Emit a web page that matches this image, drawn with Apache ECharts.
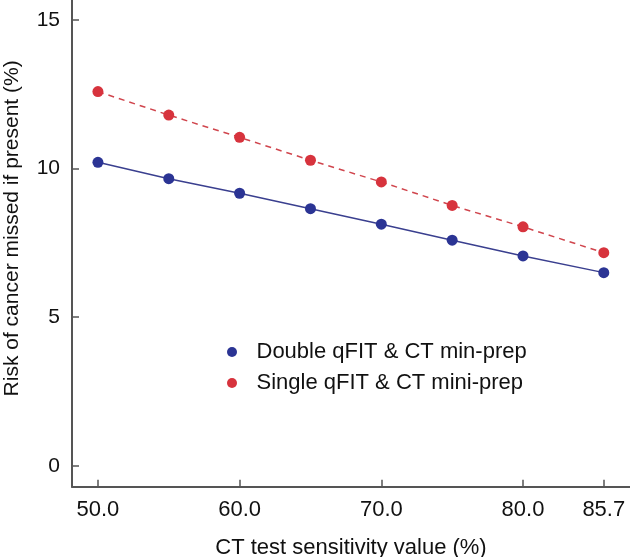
<!DOCTYPE html>
<html>
<head>
<meta charset="utf-8">
<script src="https://cdn.jsdelivr.net/npm/echarts@6/dist/echarts.min.js"></script>
<style>
html,body{margin:0;padding:0;background:#fff;}
#chart{width:630px;height:557px;}
</style>
</head>
<body>
<div id="chart"></div>
<script>
const sensitivity = [50, 55, 60, 65, 70, 75, 80, 85.7];
const doubleQfit = [10.21, 9.66, 9.17, 8.65, 8.13, 7.59, 7.06, 6.50];
const singleQfit = [12.59, 11.80, 11.05, 10.28, 9.55, 8.76, 8.04, 7.17];
const xTicks = [50, 60, 70, 80, 85.7];
const yTicks = [0, 5, 10, 15];
const seriesNames = ['Double qFIT & CT min-prep', 'Single qFIT & CT mini-prep'];

const font = 'Liberation Sans, Arial, Helvetica, sans-serif';
const chart = echarts.init(document.getElementById('chart'), null, {renderer: 'canvas'});
chart.setOption({
  animation: false,
  backgroundColor: '#ffffff',
  grid: {left: 72, right: 0, top: 0, bottom: 70.3, containLabel: false, outerBoundsMode: 'none'},
  legend: {
    orient: 'vertical',
    left: 227,
    top: 340,
    padding: 0,
    icon: 'circle',
    itemWidth: 39,
    itemHeight: 10,
    itemGap: 7,
    textStyle: {fontFamily: font, fontSize: 22, color: '#111', lineHeight: 24},
    data: seriesNames
  },
  xAxis: {
    type: 'value',
    min: 48.17,
    max: 87.55,
    name: 'CT test sensitivity value (%)',
    nameLocation: 'middle',
    nameGap: 50,
    nameTextStyle: {fontFamily: font, fontSize: 22, color: '#111'},
    axisLine: {onZero: false, lineStyle: {color: '#555', width: 2}},
    axisTick: {show: true, inside: true, length: 7, customValues: xTicks, lineStyle: {color: '#555', width: 1.5}},
    axisLabel: {customValues: xTicks, fontFamily: font, fontSize: 22, color: '#111', margin: 12,
      formatter: v => Number(v).toFixed(1)},
    splitLine: {show: false}
  },
  yAxis: {
    type: 'value',
    min: -0.7,
    max: 15.67,
    name: 'Risk of cancer missed if present (%)',
    nameLocation: 'middle',
    nameGap: 49,
    nameRotate: 90,
    nameTextStyle: {fontFamily: font, fontSize: 21, color: '#111', padding: [0, 0, 0, 30]},
    axisLine: {onZero: false, lineStyle: {color: '#555', width: 2}},
    axisTick: {show: true, inside: true, length: 7, customValues: yTicks, lineStyle: {color: '#555', width: 1.5}},
    axisLabel: {customValues: yTicks, fontFamily: font, fontSize: 21, color: '#111', margin: 12},
    splitLine: {show: false}
  },
  series: [
    {
      name: seriesNames[0],
      type: 'line',
      data: sensitivity.map((x, i) => [x, doubleQfit[i]]),
      symbol: 'circle',
      symbolSize: 11,
      itemStyle: {color: '#2b3494'},
      lineStyle: {color: '#3a3f8f', width: 1.5, type: 'solid'},
      z: 3
    },
    {
      name: seriesNames[1],
      type: 'line',
      data: sensitivity.map((x, i) => [x, singleQfit[i]]),
      symbol: 'circle',
      symbolSize: 11,
      itemStyle: {color: '#d7333d'},
      lineStyle: {color: '#d0454d', width: 1.5, type: [6, 5]},
      z: 2
    }
  ]
});
</script>
</body>
</html>
